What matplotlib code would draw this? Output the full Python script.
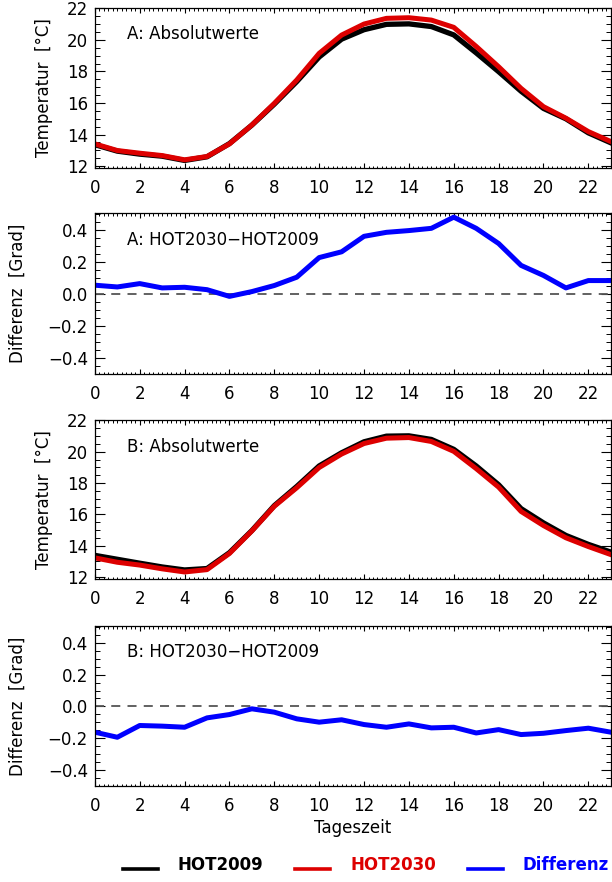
import matplotlib
matplotlib.use("Agg")
import matplotlib.pyplot as plt
from matplotlib.ticker import MultipleLocator
from matplotlib.lines import Line2D

hours = list(range(24))

# Panel A: absolute values
a_hot2009 = [13.36, 12.95, 12.76, 12.63, 12.36, 12.59, 13.43, 14.60, 15.93, 17.36, 18.92, 20.05,
             20.65, 20.99, 21.02, 20.85, 20.32, 19.18, 17.99, 16.75, 15.66, 15.00, 14.11, 13.48]
a_hot2030 = [13.41, 12.99, 12.82, 12.67, 12.40, 12.61, 13.41, 14.61, 15.98, 17.46, 19.15, 20.31,
             21.01, 21.37, 21.41, 21.26, 20.80, 19.59, 18.30, 16.93, 15.77, 15.04, 14.19, 13.56]
a_diff = [0.053, 0.042, 0.063, 0.036, 0.040, 0.025, -0.017, 0.013, 0.051, 0.103, 0.226, 0.262,
          0.359, 0.384, 0.395, 0.409, 0.479, 0.409, 0.314, 0.177, 0.114, 0.036, 0.082, 0.082]

# Panel B: absolute values
b_hot2009 = [13.39, 13.14, 12.89, 12.65, 12.46, 12.55, 13.56, 14.97, 16.56, 17.78, 19.09, 19.93,
             20.63, 20.99, 21.01, 20.78, 20.15, 19.09, 17.89, 16.37, 15.46, 14.66, 14.09, 13.60]
b_hot2030 = [13.23, 12.95, 12.77, 12.53, 12.33, 12.48, 13.51, 14.95, 16.52, 17.70, 18.99, 19.85,
             20.52, 20.86, 20.90, 20.65, 20.02, 18.92, 17.74, 16.19, 15.29, 14.51, 13.95, 13.44]
b_diff = [-0.162, -0.194, -0.120, -0.124, -0.131, -0.072, -0.051, -0.015, -0.036, -0.078, -0.099, -0.084,
          -0.114, -0.131, -0.110, -0.135, -0.131, -0.167, -0.146, -0.177, -0.169, -0.152, -0.137, -0.162]

xticks = list(range(0, 24, 2))
temp_ticks = [12, 14, 16, 18, 20, 22]
diff_ticks = [-0.4, -0.2, 0.0, 0.2, 0.4]
diff_ticklabels = ["\u22120.4", "\u22120.2", "0.0", "0.2", "0.4"]
legend_labels = ["HOT2009", "HOT2030", "Differenz"]

BLACK = "#000000"
RED = "#DD0000"
BLUE = "#0000FF"
FS = 12

plt.rcParams["font.family"] = ["DejaVu Sans"]

fig = plt.figure(figsize=(6.12, 8.82), dpi=100)

left, width = 0.155, 0.843
boxes = [
    (0.8095, 0.1815),
    (0.5765, 0.1820),
    (0.3435, 0.1805),
    (0.1090, 0.1810),
]

def style_axes(ax):
    ax.set_xlim(0, 23)
    ax.set_xticks(xticks)
    ax.set_xticklabels([str(v) for v in xticks])
    ax.xaxis.set_minor_locator(MultipleLocator(0.2))
    ax.tick_params(axis="x", which="major", direction="in", length=3.5, width=0.8,
                   top=True, bottom=True, labelsize=FS, pad=8)
    ax.tick_params(axis="x", which="minor", direction="in", length=1.8, width=0.7,
                   top=True, bottom=True)
    ax.tick_params(axis="y", which="major", direction="in", length=7.5, width=0.8,
                   left=True, right=True, labelsize=FS, pad=5)
    ax.tick_params(axis="y", which="minor", direction="in", length=3.8, width=0.7,
                   left=True, right=True)
    for s in ax.spines.values():
        s.set_linewidth(0.9)

axes = []
for (b, h) in boxes:
    axes.append(fig.add_axes([left, b, width, h]))

# Panel A absolute
ax = axes[0]
ax.plot(hours, a_hot2009, color=BLACK, lw=3.8, solid_joinstyle="round")
ax.plot(hours, a_hot2030, color=RED, lw=3.6, solid_joinstyle="round")
ax.set_ylim(11.88, 22.03)
ax.set_yticks(temp_ticks)
ax.yaxis.set_minor_locator(MultipleLocator(0.5))
style_axes(ax)
ax.text(0.062, 0.84, "A: Absolutwerte", transform=ax.transAxes, fontsize=FS, va="center", ha="left")
ax.set_ylabel("Temperatur  [°C]", fontsize=FS)
ax.yaxis.set_label_coords(-0.082, 0.5)

# Panel A diff
ax = axes[1]
ax.axhline(0.0, color="#555555", lw=1.3, ls=(0, (5, 4)))
ax.plot(hours, a_diff, color=BLUE, lw=3.6, solid_joinstyle="round")
ax.set_ylim(-0.5, 0.505)
ax.set_yticks(diff_ticks)
ax.set_yticklabels(diff_ticklabels)
ax.yaxis.set_minor_locator(MultipleLocator(0.05))
style_axes(ax)
ax.text(0.062, 0.83, "A: HOT2030\u2212HOT2009", transform=ax.transAxes, fontsize=FS, va="center", ha="left")
ax.set_ylabel("Differenz  [Grad]", fontsize=FS)
ax.yaxis.set_label_coords(-0.132, 0.5)

# Panel B absolute
ax = axes[2]
ax.plot(hours, b_hot2009, color=BLACK, lw=3.8, solid_joinstyle="round")
ax.plot(hours, b_hot2030, color=RED, lw=3.6, solid_joinstyle="round")
ax.set_ylim(11.88, 22.03)
ax.set_yticks(temp_ticks)
ax.yaxis.set_minor_locator(MultipleLocator(0.5))
style_axes(ax)
ax.text(0.062, 0.83, "B: Absolutwerte", transform=ax.transAxes, fontsize=FS, va="center", ha="left")
ax.set_ylabel("Temperatur  [°C]", fontsize=FS)
ax.yaxis.set_label_coords(-0.082, 0.5)

# Panel B diff
ax = axes[3]
ax.axhline(0.0, color="#555555", lw=1.3, ls=(0, (5, 4)))
ax.plot(hours, b_diff, color=BLUE, lw=3.6, solid_joinstyle="round")
ax.set_ylim(-0.5, 0.505)
ax.set_yticks(diff_ticks)
ax.set_yticklabels(diff_ticklabels)
ax.yaxis.set_minor_locator(MultipleLocator(0.05))
style_axes(ax)
ax.text(0.062, 0.84, "B: HOT2030\u2212HOT2009", transform=ax.transAxes, fontsize=FS, va="center", ha="left")
ax.set_ylabel("Differenz  [Grad]", fontsize=FS)
ax.yaxis.set_label_coords(-0.132, 0.5)
ax.set_xlabel("Tageszeit", fontsize=FS, labelpad=3)

# Legend (manual layout in figure pixels)
W, H = 612.0, 882.0
legend_items = [
    (123, 158, 177, BLACK),
    (295, 330, 350, RED),
    (468, 503, 522, BLUE),
]
y_line = 1 - 869 / H
y_text = 1 - 865 / H
for (x0, x1, xt, c), lab in zip(legend_items, legend_labels):
    fig.add_artist(Line2D([x0 / W, x1 / W], [y_line, y_line], transform=fig.transFigure,
                          color=c, lw=2.6))
    fig.text(xt / W, y_text, lab, color=c, fontsize=FS, fontweight="bold",
             va="center", ha="left")

fig.savefig("out.png", dpi=100)
